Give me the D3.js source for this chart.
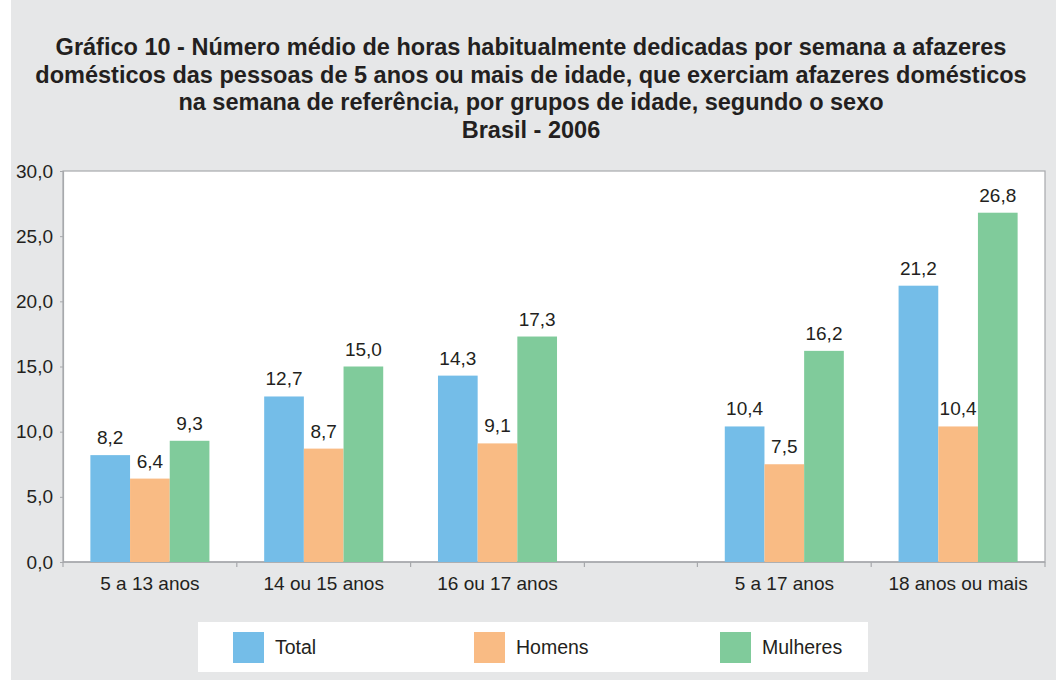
<!DOCTYPE html>
<html>
<head>
<meta charset="utf-8">
<script src="https://cdn.jsdelivr.net/npm/d3@7"></script>
<style>
  html, body { margin: 0; padding: 0; background: #ffffff; }
  svg { display: block; }
  text { font-family: "Liberation Sans", Arial, Helvetica, sans-serif; fill: #231f20; }
</style>
</head>
<body>
<svg id="chart" width="1056" height="680"></svg>
<script>
// ---- data ----
const titleLines = [
  "Gráfico 10 - Número médio de horas habitualmente dedicadas por semana a afazeres",
  "domésticos das pessoas de 5 anos ou mais de idade, que exerciam afazeres domésticos",
  "na semana de referência, por grupos de idade, segundo o sexo",
  "Brasil - 2006"
];
const categories = ["5 a 13 anos", "14 ou 15 anos", "16 ou 17 anos", "5 a 17 anos", "18 anos ou mais"];
const seriesNames = ["Total", "Homens", "Mulheres"];
const totalValues = [8.2, 12.7, 14.3, 10.4, 21.2];
const homensValues = [6.4, 8.7, 9.1, 7.5, 10.4];
const mulheresValues = [9.3, 15.0, 17.3, 16.2, 26.8];
const yTicks = [0, 5, 10, 15, 20, 25, 30];
const seriesColors = ["#74bde8", "#f9bb84", "#80cb9b"];

const seriesValues = [totalValues, homensValues, mulheresValues];
const rows = categories.map((c, i) => ({
  cat: c, idx: i,
  vals: seriesNames.map((s, j) => ({ series: s, value: seriesValues[j][i] }))
}));

// ---- layout ----
const svg = d3.select("#chart");
const W = 1056, H = 680;
const plot = { left: 63, right: 1045, top: 171, bottom: 562 };
const gap = 113;          // empty slot between the two groups of categories
const gapAfter = 2;       // index after which the gap is inserted
const fmt = v => d3.format(".1f")(v).replace(".", ",");

svg.append("rect").attr("x", 11).attr("y", 0).attr("width", W - 11).attr("height", H).attr("fill", "#e6e7e8");

// title
const title = svg.append("text").attr("text-anchor", "middle")
  .style("font-weight", "bold").style("font-size", "23.5px");
titleLines.forEach((t, i) => {
  title.append("tspan").attr("x", 531).attr("y", 55 + i * 27.7).text(t);
});

// plot background
svg.append("rect")
  .attr("x", plot.left).attr("y", plot.top)
  .attr("width", plot.right - plot.left).attr("height", plot.bottom - plot.top)
  .attr("fill", "#ffffff").attr("stroke", "#a7a9ac").attr("stroke-width", 1.2);

// scales
const y = d3.scaleLinear().domain([0, 30]).range([plot.bottom, plot.top]);
const xb = d3.scaleBand().domain(categories).range([plot.left, plot.right - gap]).paddingInner(0).paddingOuter(0);
const xPos = c => xb(c) + (categories.indexOf(c) > gapAfter ? gap : 0);
const x1 = d3.scaleBand().domain(seriesNames).range([0, xb.bandwidth()]).paddingInner(0).paddingOuter(0.69);
const color = d3.scaleOrdinal().domain(seriesNames).range(seriesColors);

// y axis
const yAxis = svg.append("g").attr("transform", `translate(${plot.left},0)`)
  .call(d3.axisLeft(y).tickValues(yTicks).tickFormat(fmt).tickSize(3).tickPadding(7));
yAxis.select(".domain").attr("stroke", "#a7a9ac").attr("stroke-width", 1.2);
yAxis.selectAll(".tick line").attr("stroke", "#a7a9ac");
yAxis.selectAll(".tick text").style("font-size", "19px").attr("fill", "#231f20")
  .style("font-family", "'Liberation Sans', Arial, sans-serif");

// x axis: boundary ticks
const bounds = [];
categories.forEach((c, i) => { bounds.push(xPos(c)); });
bounds.push(plot.right);
bounds.push(xPos(categories[gapAfter]) + xb.bandwidth());
const xAxisG = svg.append("g");
xAxisG.append("line").attr("x1", plot.left).attr("x2", plot.right)
  .attr("y1", plot.bottom).attr("y2", plot.bottom).attr("stroke", "#a7a9ac").attr("stroke-width", 1.5);
xAxisG.selectAll("line.tk").data(bounds).join("line").attr("class", "tk")
  .attr("x1", d => d).attr("x2", d => d)
  .attr("y1", plot.bottom).attr("y2", plot.bottom + 5)
  .attr("stroke", "#a7a9ac").attr("stroke-width", 1.2);
xAxisG.selectAll("text").data(categories).join("text")
  .attr("x", c => xPos(c) + xb.bandwidth() / 2)
  .attr("y", 590)
  .attr("text-anchor", "middle")
  .style("font-size", "19px")
  .text(c => c);

// bars
const groups = svg.append("g").selectAll("g").data(rows).join("g")
  .attr("transform", d => `translate(${xPos(d.cat)},0)`);
groups.selectAll("rect").data(d => d.vals).join("rect")
  .attr("x", d => x1(d.series))
  .attr("width", x1.bandwidth())
  .attr("y", d => y(d.value))
  .attr("height", d => y(0) - y(d.value))
  .attr("fill", d => color(d.series));
groups.selectAll("text").data(d => d.vals).join("text")
  .attr("x", d => x1(d.series) + x1.bandwidth() / 2)
  .attr("y", d => y(d.value) - 11)
  .attr("text-anchor", "middle")
  .style("font-size", "19px")
  .text(d => fmt(d.value));

// legend
const lg = svg.append("g");
lg.append("rect").attr("x", 198).attr("y", 622).attr("width", 670).attr("height", 50).attr("fill", "#ffffff");
const legendX = [233, 474, 720];
const li = lg.selectAll("g").data(seriesNames).join("g")
  .attr("transform", (d, i) => `translate(${legendX[i]},632)`);
li.append("rect").attr("width", 31).attr("height", 31).attr("fill", d => color(d));
li.append("text").attr("x", 42).attr("y", 22).style("font-size", "19.5px").text(d => d);
</script>
</body>
</html>
